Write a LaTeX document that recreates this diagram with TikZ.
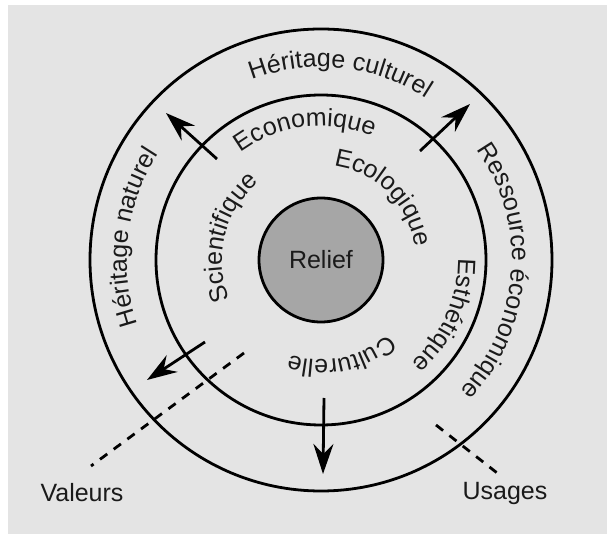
\documentclass[tikz,border=0pt]{standalone}
\usepackage{fontspec}
\setmainfont{Liberation Sans}
\usetikzlibrary{decorations.text, arrows.meta}
\definecolor{bggray}{HTML}{E4E4E4}
\definecolor{txt}{HTML}{1A1A1A}
\definecolor{reliefgray}{HTML}{A6A6A6}
\newcommand\ringlabel[4]{% radius, centre angle, half span, text
  \path[decorate, decoration={text along path, text align=center, text color=txt, text={#4}}]
    (0,0) ++(#2+#3:#1) arc[start angle=#2+#3, end angle=#2-#3, radius=#1];}
\tikzset{
  ring/.style={draw=black, line width=2.8pt},
  arr/.style={draw=black, line width=2.8pt, -{Stealth[length=30pt, width=20pt, inset=10pt]}},
  dashline/.style={draw=black, line width=2.8pt, dash pattern=on 9pt off 8pt},
  lab/.style={text=txt, inner sep=0pt}
}
\begin{document}
\begin{tikzpicture}[x=1pt, y=1pt]
\fontsize{25pt}{30pt}\selectfont
\useasboundingbox (-321,260) rectangle (286,-277);
\fill[white] (-321,260) rectangle (286,-277);
\fill[bggray] (-313,255) rectangle (286,-274);
% rings
\draw[ring] (0,0) circle[radius=231];
\draw[ring] (0,0) circle[radius=165];
\node[circle, draw=black, line width=2.8pt, fill=reliefgray, minimum size=124pt, inner sep=0pt, text=txt] (relief) at (0,0) {Relief};
% outer ring texts
\ringlabel{193}{84}{80}{Héritage culturel}
\ringlabel{191}{-4}{80}{Ressource économique}
\ringlabel{194}{173}{80}{Héritage naturel}
% inner ring texts
\ringlabel{134}{97}{80}{Economique}
\ringlabel{95}{45}{80}{Ecologique}
\ringlabel{99}{166}{80}{Scientifique}
\ringlabel{137}{-24}{80}{Esthétique}
\ringlabel{100}{-78}{80}{Culturelle}
% arrows
\coordinate (ulS) at (-104,101); \coordinate (ulE) at (-155,147);
\coordinate (urS) at (99,109);   \coordinate (urE) at (149,156);
\coordinate (llS) at (-116,-82); \coordinate (llE) at (-174,-120);
\coordinate (bS) at (3,-138);    \coordinate (bE) at (2,-214);
\draw[arr] (ulS) -- (ulE);
\draw[arr] (urS) -- (urE);
\draw[arr] (llS) -- (llE);
\draw[arr] (bS) -- (bE);
% labels and dashed leaders
\node[lab] (valeurs) at (-239,-233) {Valeurs};
\node[lab] (usages) at (184,-233) {Usages};
\coordinate (vS) at (-77,-93);  \coordinate (vE) at (-230,-206);
\coordinate (uS) at (115,-165); \coordinate (uE) at (180,-216);
\draw[dashline] (vS) -- (vE);
\draw[dashline] (uS) -- (uE);
\end{tikzpicture}
\end{document}
